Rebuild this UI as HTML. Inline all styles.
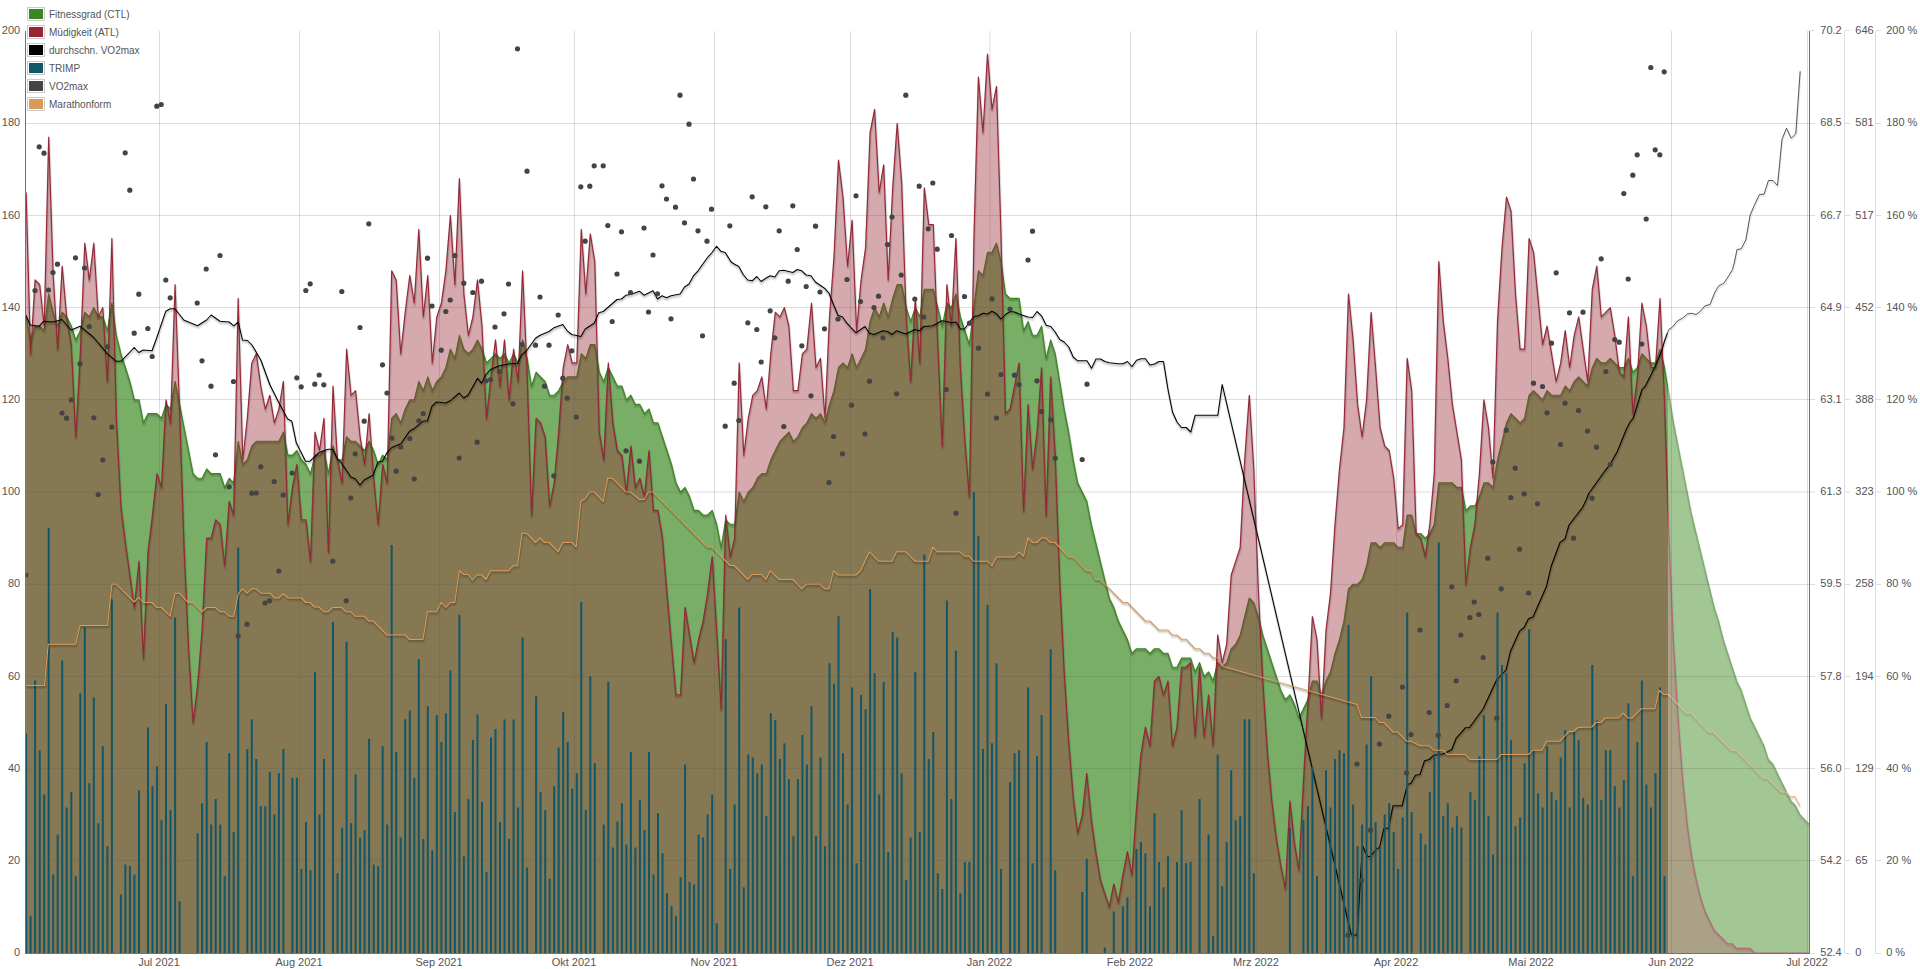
<!DOCTYPE html>
<html><head><meta charset="utf-8"><title>Form</title>
<style>
html,body{margin:0;padding:0;background:#fff;}
body{width:1920px;height:969px;position:relative;overflow:hidden;font-family:"Liberation Sans",sans-serif;}
.lg{position:absolute;left:26px;top:5px;width:116px;height:110px;background:rgba(255,255,255,0.85);}
.sw{position:absolute;left:27px;width:14px;height:10px;border:1px solid #ccc;padding:1px;background:#fff;}
.sw div{width:14px;height:10px;}
.lt{position:absolute;left:49px;height:14px;line-height:14px;font-size:10px;color:#545454;white-space:nowrap;}
</style></head><body>
<svg width="1920" height="969" viewBox="0 0 1920 969" style="position:absolute;left:0;top:0">
<defs><clipPath id="c"><rect x="25.5" y="0" width="1783.5" height="953"/></clipPath>
<path id="lc" d="M26.1 316.8 L30.6 339.9 L35.1 326 L39.7 326 L44.2 330.6 L48.7 293.8 L53.2 312.2 L57.7 326 L62.2 312.2 L66.7 316.8 L71.3 326 L75.8 339.9 L80.3 330.6 L84.8 312.2 L89.3 316.8 L93.8 307.6 L98.3 316.8 L102.8 316.8 L107.4 330.6 L111.9 303 L116.4 335.3 L120.9 353.7 L125.4 367.5 L129.9 381.4 L134.4 399.8 L139 399.8 L143.5 422.8 L148 413.6 L152.5 413.6 L157 413.6 L161.5 418.2 L166 404.4 L170.5 409 L175.1 381.4 L179.6 404.4 L184.1 427.5 L188.6 450.5 L193.1 473.6 L197.6 478.2 L202.1 478.2 L206.7 468.9 L211.2 473.6 L215.7 473.6 L220.2 473.6 L224.7 487.4 L229.2 478.2 L233.7 482.8 L238.2 441.3 L242.8 464.3 L247.3 459.7 L251.8 445.9 L256.3 441.3 L260.8 441.3 L265.3 441.3 L269.8 441.3 L274.4 441.3 L278.9 441.3 L283.4 432.1 L287.9 455.1 L292.4 455.1 L296.9 450.5 L301.4 459.7 L306 464.3 L310.5 473.6 L315 455.1 L319.5 455.1 L324 450.5 L328.5 473.6 L333 445.9 L337.5 459.7 L342.1 459.7 L346.6 436.7 L351.1 441.3 L355.6 441.3 L360.1 445.9 L364.6 450.5 L369.1 441.3 L373.7 450.5 L378.2 464.3 L382.7 455.1 L387.2 459.7 L391.7 418.2 L396.2 413.6 L400.7 422.8 L405.2 409 L409.8 399.8 L414.3 399.8 L418.8 381.4 L423.3 390.6 L427.8 376.8 L432.3 390.6 L436.8 381.4 L441.4 376.8 L445.9 367.5 L450.4 349.1 L454.9 358.3 L459.4 335.3 L463.9 349.1 L468.4 353.7 L472.9 349.1 L477.5 339.9 L482 349.1 L486.5 362.9 L491 358.3 L495.5 353.7 L500 358.3 L504.5 353.7 L509.1 362.9 L513.6 353.7 L518.1 362.9 L522.6 339.9 L527.1 358.3 L531.6 386 L536.1 372.1 L540.6 376.8 L545.2 381.4 L549.7 395.2 L554.2 395.2 L558.7 390.6 L563.2 381.4 L567.7 376.8 L572.2 376.8 L576.8 376.8 L581.3 353.7 L585.8 358.3 L590.3 344.5 L594.8 344.5 L599.3 372.1 L603.8 381.4 L608.3 367.5 L612.9 376.8 L617.4 386 L621.9 386 L626.4 399.8 L630.9 395.2 L635.4 404.4 L639.9 404.4 L644.5 413.6 L649 409 L653.5 422.8 L658 422.8 L662.5 436.7 L667 450.5 L671.5 464.3 L676 482.8 L680.6 492 L685.1 487.4 L689.6 496.6 L694.1 510.4 L698.6 510.4 L703.1 515 L707.6 515 L712.2 510.4 L716.7 524.3 L721.2 547.3 L725.7 519.7 L730.2 524.3 L734.7 524.3 L739.2 492 L743.8 501.2 L748.3 492 L752.8 487.4 L757.3 478.2 L761.8 473.6 L766.3 473.6 L770.8 459.7 L775.3 450.5 L779.9 441.3 L784.4 436.7 L788.9 432.1 L793.4 441.3 L797.9 436.7 L802.4 427.5 L806.9 422.8 L811.5 413.6 L816 418.2 L820.5 413.6 L825 422.8 L829.5 404.4 L834 390.6 L838.5 367.5 L843 362.9 L847.6 367.5 L852.1 353.7 L856.6 367.5 L861.1 358.3 L865.6 349.1 L870.1 321.4 L874.6 307.6 L879.2 316.8 L883.7 303 L888.2 316.8 L892.7 298.4 L897.2 284.5 L901.7 284.5 L906.2 307.6 L910.7 321.4 L915.3 307.6 L919.8 316.8 L924.3 289.2 L928.8 289.2 L933.3 289.2 L937.8 307.6 L942.3 326 L946.9 303 L951.4 307.6 L955.9 293.8 L960.4 316.8 L964.9 330.6 L969.4 344.5 L973.9 307.6 L978.4 270.7 L983 275.3 L987.5 252.3 L992 252.3 L996.5 243.1 L1001 261.5 L1005.5 293.8 L1010 298.4 L1014.6 298.4 L1019.1 298.4 L1023.6 330.6 L1028.1 321.4 L1032.6 335.3 L1037.1 335.3 L1041.6 326 L1046.1 358.3 L1050.7 339.9 L1055.2 353.7 L1059.7 381.4 L1064.2 409 L1068.7 432.1 L1073.2 459.7 L1077.7 482.8 L1082.3 492 L1086.8 501.2 L1091.3 524.3 L1095.8 542.7 L1100.3 561.1 L1104.8 579.6 L1109.3 598 L1113.8 607.2 L1118.4 621.1 L1122.9 630.3 L1127.4 639.5 L1131.9 653.3 L1136.4 648.7 L1140.9 648.7 L1145.4 648.7 L1150 653.3 L1154.5 648.7 L1159 648.7 L1163.5 653.3 L1168 653.3 L1172.5 667.2 L1177 667.2 L1181.6 658 L1186.1 658 L1190.6 658 L1195.1 671.8 L1199.6 662.6 L1204.1 676.4 L1208.6 671.8 L1213.1 681 L1217.7 662.6 L1222.2 667.2 L1226.7 662.6 L1231.2 648.7 L1235.7 644.1 L1240.2 634.9 L1244.7 616.5 L1249.3 598 L1253.8 602.6 L1258.3 616.5 L1262.8 634.9 L1267.3 648.7 L1271.8 662.6 L1276.3 676.4 L1280.8 690.2 L1285.4 699.5 L1289.9 694.8 L1294.4 704.1 L1298.9 717.9 L1303.4 708.7 L1307.9 699.5 L1312.4 681 L1317 681 L1321.5 694.8 L1326 681 L1330.5 671.8 L1335 653.3 L1339.5 639.5 L1344 621.1 L1348.5 588.8 L1353.1 584.2 L1357.6 584.2 L1362.1 579.6 L1366.6 565.8 L1371.1 542.7 L1375.6 542.7 L1380.1 547.3 L1384.7 542.7 L1389.2 542.7 L1393.7 542.7 L1398.2 547.3 L1402.7 547.3 L1407.2 515 L1411.7 515 L1416.2 533.5 L1420.8 533.5 L1425.3 538.1 L1429.8 533.5 L1434.3 524.3 L1438.8 482.8 L1443.3 482.8 L1447.8 482.8 L1452.4 482.8 L1456.9 487.4 L1461.4 487.4 L1465.9 510.4 L1470.4 505.8 L1474.9 505.8 L1479.4 496.6 L1483.9 482.8 L1488.5 482.8 L1493 487.4 L1497.5 459.7 L1502 441.3 L1506.5 422.8 L1511 413.6 L1515.5 418.2 L1520.1 422.8 L1524.6 418.2 L1529.1 395.2 L1533.6 390.6 L1538.1 395.2 L1542.6 399.8 L1547.1 390.6 L1551.6 395.2 L1556.2 395.2 L1560.7 395.2 L1565.2 386 L1569.7 390.6 L1574.2 381.4 L1578.7 376.8 L1583.2 381.4 L1587.8 386 L1592.3 367.5 L1596.8 358.3 L1601.3 362.9 L1605.8 362.9 L1610.3 358.3 L1614.8 362.9 L1619.4 367.5 L1623.9 367.5 L1628.4 358.3 L1632.9 372.1 L1637.4 367.5 L1641.9 353.7 L1646.4 358.3 L1650.9 362.9 L1655.5 362.9 L1660 349.1 L1664.5 367.5 L1669 395.2 L1673.5 422.8 L1678 445.9 L1682.5 468.9 L1687.1 492 L1691.6 515 L1696.1 533.5 L1700.6 551.9 L1705.1 570.4 L1709.6 588.8 L1714.1 607.2 L1718.6 621.1 L1723.2 639.5 L1727.7 653.3 L1732.2 667.2 L1736.7 681 L1741.2 690.2 L1745.7 704.1 L1750.2 717.9 L1754.8 727.1 L1759.3 736.3 L1763.8 745.5 L1768.3 759.4 L1772.8 764 L1777.3 773.2 L1781.8 782.4 L1786.3 791.6 L1790.9 800.9 L1795.4 805.5 L1799.9 814.7 L1804.4 819.3 L1808.9 823.9"/><path id="la" d="M26.1 192.3 L30.6 353.7 L35.1 279.9 L39.7 284.5 L44.2 326 L48.7 137 L53.2 275.3 L57.7 349.1 L62.2 266.1 L66.7 316.8 L71.3 344.5 L75.8 436.7 L80.3 353.7 L84.8 243.1 L89.3 279.9 L93.8 243.1 L98.3 316.8 L102.8 307.6 L107.4 381.4 L111.9 238.4 L116.4 418.2 L120.9 505.8 L125.4 542.7 L129.9 575 L134.4 607.2 L139 561.1 L143.5 658 L148 551.9 L152.5 515 L157 473.6 L161.5 487.4 L166 399.8 L170.5 422.8 L175.1 284.5 L179.6 409 L184.1 547.3 L188.6 648.7 L193.1 722.5 L197.6 685.6 L202.1 630.3 L206.7 538.1 L211.2 538.1 L215.7 519.7 L220.2 524.3 L224.7 565.8 L229.2 501.2 L233.7 515 L238.2 298.4 L242.8 459.7 L247.3 418.2 L251.8 362.9 L256.3 353.7 L260.8 386 L265.3 409 L269.8 395.2 L274.4 422.8 L278.9 409 L283.4 381.4 L287.9 524.3 L292.4 487.4 L296.9 464.3 L301.4 519.7 L306 519.7 L310.5 561.1 L315 432.1 L319.5 450.5 L324 418.2 L328.5 551.9 L333 386 L337.5 459.7 L342.1 482.8 L346.6 349.1 L351.1 395.2 L355.6 390.6 L360.1 436.7 L364.6 464.3 L369.1 413.6 L373.7 478.2 L378.2 524.3 L382.7 464.3 L387.2 482.8 L391.7 270.7 L396.2 279.9 L400.7 353.7 L405.2 312.2 L409.8 275.3 L414.3 303 L418.8 229.2 L423.3 316.8 L427.8 275.3 L432.3 362.9 L436.8 316.8 L441.4 303 L445.9 270.7 L450.4 215.4 L454.9 284.5 L459.4 178.5 L463.9 293.8 L468.4 335.3 L472.9 316.8 L477.5 279.9 L482 326 L486.5 418.2 L491 376.8 L495.5 339.9 L500 386 L504.5 339.9 L509.1 399.8 L513.6 349.1 L518.1 381.4 L522.6 270.7 L527.1 372.1 L531.6 515 L536.1 418.2 L540.6 422.8 L545.2 436.7 L549.7 505.8 L554.2 482.8 L558.7 432.1 L563.2 367.5 L567.7 344.5 L572.2 362.9 L576.8 362.9 L581.3 229.2 L585.8 293.8 L590.3 233.8 L594.8 261.5 L599.3 432.1 L603.8 459.7 L608.3 362.9 L612.9 422.8 L617.4 450.5 L621.9 455.1 L626.4 492 L630.9 445.9 L635.4 487.4 L639.9 478.2 L644.5 496.6 L649 450.5 L653.5 510.4 L658 510.4 L662.5 538.1 L667 593.4 L671.5 644.1 L676 694.8 L680.6 694.8 L685.1 607.2 L689.6 634.9 L694.1 662.6 L698.6 639.5 L703.1 621.1 L707.6 593.4 L712.2 556.5 L716.7 630.3 L721.2 708.7 L725.7 515 L730.2 556.5 L734.7 538.1 L739.2 362.9 L743.8 455.1 L748.3 418.2 L752.8 395.2 L757.3 390.6 L761.8 376.8 L766.3 409 L770.8 353.7 L775.3 312.2 L779.9 316.8 L784.4 307.6 L788.9 326 L793.4 390.6 L797.9 390.6 L802.4 353.7 L806.9 349.1 L811.5 303 L816 367.5 L820.5 358.3 L825 418.2 L829.5 316.8 L834 256.9 L838.5 160.1 L843 197 L847.6 266.1 L852.1 220 L856.6 330.6 L861.1 279.9 L865.6 247.7 L870.1 132.4 L874.6 109.4 L879.2 192.3 L883.7 164.7 L888.2 279.9 L892.7 187.7 L897.2 123.2 L901.7 183.1 L906.2 316.8 L910.7 381.4 L915.3 298.4 L919.8 362.9 L924.3 187.7 L928.8 224.6 L933.3 224.6 L937.8 344.5 L942.3 445.9 L946.9 284.5 L951.4 326 L955.9 238.4 L960.4 367.5 L964.9 441.3 L969.4 496.6 L973.9 238.4 L978.4 77.1 L983 132.4 L987.5 54 L992 109.4 L996.5 86.3 L1001 233.8 L1005.5 413.6 L1010 409 L1014.6 386 L1019.1 362.9 L1023.6 510.4 L1028.1 404.4 L1032.6 468.9 L1037.1 432.1 L1041.6 367.5 L1046.1 515 L1050.7 376.8 L1055.2 455.1 L1059.7 579.6 L1064.2 671.8 L1068.7 740.9 L1073.2 796.3 L1077.7 833.1 L1082.3 814.7 L1086.8 773.2 L1091.3 819.3 L1095.8 851.6 L1100.3 879.2 L1104.8 893.1 L1109.3 906.9 L1113.8 883.9 L1118.4 902.3 L1122.9 874.6 L1127.4 851.6 L1131.9 874.6 L1136.4 810.1 L1140.9 754.8 L1145.4 727.1 L1150 745.5 L1154.5 681 L1159 676.4 L1163.5 694.8 L1168 681 L1172.5 745.5 L1177 727.1 L1181.6 667.2 L1186.1 667.2 L1190.6 662.6 L1195.1 736.3 L1199.6 667.2 L1204.1 736.3 L1208.6 694.8 L1213.1 745.5 L1217.7 634.9 L1222.2 662.6 L1226.7 644.1 L1231.2 575 L1235.7 561.1 L1240.2 547.3 L1244.7 459.7 L1249.3 395.2 L1253.8 468.9 L1258.3 588.8 L1262.8 681 L1267.3 750.2 L1271.8 800.9 L1276.3 837.8 L1280.8 865.4 L1285.4 888.5 L1289.9 800.9 L1294.4 842.4 L1298.9 870 L1303.4 782.4 L1307.9 704.1 L1312.4 616.5 L1317 639.5 L1321.5 717.9 L1326 630.3 L1330.5 593.4 L1335 524.3 L1339.5 468.9 L1344 427.5 L1348.5 293.8 L1353.1 339.9 L1357.6 404.4 L1362.1 436.7 L1366.6 399.8 L1371.1 312.2 L1375.6 367.5 L1380.1 427.5 L1384.7 445.9 L1389.2 450.5 L1393.7 478.2 L1398.2 528.9 L1402.7 524.3 L1407.2 358.3 L1411.7 390.6 L1416.2 533.5 L1420.8 538.1 L1425.3 556.5 L1429.8 524.3 L1434.3 473.6 L1438.8 261.5 L1443.3 321.4 L1447.8 358.3 L1452.4 404.4 L1456.9 432.1 L1461.4 459.7 L1465.9 584.2 L1470.4 547.3 L1474.9 524.3 L1479.4 473.6 L1483.9 399.8 L1488.5 427.5 L1493 478.2 L1497.5 321.4 L1502 247.7 L1506.5 197 L1511 210.8 L1515.5 293.8 L1520.1 349.1 L1524.6 349.1 L1529.1 238.4 L1533.6 252.3 L1538.1 298.4 L1542.6 344.5 L1547.1 326 L1551.6 353.7 L1556.2 381.4 L1560.7 362.9 L1565.2 330.6 L1569.7 367.5 L1574.2 335.3 L1578.7 316.8 L1583.2 349.1 L1587.8 381.4 L1592.3 289.2 L1596.8 266.1 L1601.3 316.8 L1605.8 312.2 L1610.3 307.6 L1614.8 335.3 L1619.4 372.1 L1623.9 376.8 L1628.4 316.8 L1632.9 413.6 L1637.4 376.8 L1641.9 303 L1646.4 326 L1650.9 367.5 L1655.5 367.5 L1660 298.4 L1664.5 399.8 L1669 538.1 L1673.5 644.1 L1678 717.9 L1682.5 777.8 L1687.1 823.9 L1691.6 856.2 L1696.1 879.2 L1700.6 897.7 L1705.1 911.5 L1709.6 920.7 L1714.1 930 L1718.6 934.6 L1723.2 939.2 L1727.7 943.8 L1732.2 943.8 L1736.7 948.4 L1741.2 948.4 L1745.7 948.4 L1750.2 948.4 L1754.8 953 L1759.3 953 L1763.8 953 L1768.3 953 L1772.8 953 L1777.3 953 L1781.8 953 L1786.3 953 L1790.9 953 L1795.4 953 L1799.9 953 L1804.4 953 L1808.9 953"/><path id="lb" d="M25.8 315 L30.2 325 L39.2 326.2 L43.8 321.2 L53 322 L62 319.5 L71.2 330 L80 326.2 L93.8 337.5 L107.5 353.8 L116.2 361.2 L121.2 361.2 L134.2 347.5 L138.8 352.5 L143.2 350 L152 350.8 L156.8 337.5 L165.8 311.2 L170.2 308.8 L175 308.8 L183.8 320 L197.5 325.8 L206.5 320 L211.2 315 L220 321.2 L229.2 322 L233.8 325.8 L238.2 322 L242.5 340 L247.5 340.5 L252 345 L260.8 360 L270 385 L278.8 402.5 L287.5 418.8 L291.8 421.2 L296.2 442.5 L305.5 461.2 L310 461.2 L319 452.5 L328 449.2 L332.5 449.2 L337 458 L341.5 463 L350.8 477 L355.2 478.8 L360 485 L364.2 480 L373.2 475 L378 462 L382.5 461.2 L387 452.5 L391.8 447.5 L400.8 443.8 L409.5 431.2 L413.8 428.8 L423 421.2 L427.5 420.8 L432 406.2 L436.5 402 L445.8 403 L450.2 400.8 L459.2 393 L463.8 398 L468.2 395 L477.5 378.2 L481.5 383.2 L486 374.5 L490.5 369.5 L499.5 365.8 L508.5 364 L517.5 363.2 L522 354.5 L526.5 350.8 L535.5 338.2 L540 335.2 L549 331.5 L553.8 327.8 L562.8 324.5 L567.2 330.8 L571.8 334.5 L580.8 336.5 L585.2 329 L594.2 323.2 L598.8 312.8 L603.2 311.5 L617 299.5 L621.5 299 L626 295.2 L630.5 294.5 L639.5 291.2 L644 295.2 L653 290.8 L657.5 299 L662 295.8 L666.5 297.8 L671 295.8 L680 294 L684.5 287 L689 284 L693.5 275.8 L698 270.8 L702.5 264.5 L707.5 257.5 L712 252.5 L716.5 246.2 L720.8 251.2 L725.2 252.5 L731.2 262 L734.2 264 L738.8 266.5 L743.2 274.5 L747.8 280 L752.2 280.8 L756.8 276.5 L761.2 281.5 L765.8 278.2 L770.2 275.8 L774.8 277 L779.2 270.8 L783.8 270.2 L792.8 272.5 L797.2 269.5 L801.8 270.8 L806.2 275 L811 275.8 L815.5 282 L824.5 288.2 L829 293.2 L833.5 304.5 L838 315.2 L842.5 317 L847 323.2 L851.5 328.2 L856 332.8 L865 326.5 L869.5 333.2 L874 334.5 L883 330.8 L887.5 331.5 L892 334.5 L896.5 330.8 L905.8 334 L914.8 329.5 L919.2 330.8 L923.8 326.5 L932.8 325.8 L941.8 320.8 L947 321.5 L951.5 322.8 L956 322 L960.5 329 L964.5 329 L969.5 322 L974 316.5 L978.5 315.8 L983 313.2 L987.5 314 L992 311.2 L996.5 313.8 L1001 319 L1005.5 314.5 L1010 311.5 L1014.5 312 L1019 314 L1028 317 L1032.5 317.5 L1037 311.5 L1041.5 315.8 L1046.2 325.2 L1050.8 326.5 L1055.2 332 L1059.8 339.5 L1064.2 342 L1068.8 347 L1073.2 357 L1077.8 360.8 L1087 360.8 L1091.5 368.2 L1096 359 L1100.5 359 L1105 361.5 L1109.5 362.8 L1118.5 363.8 L1123 363.8 L1127.5 361.5 L1132 366.5 L1136.5 360.2 L1141 358.8 L1145.5 358.8 L1150 365 L1154.5 364 L1159 361.5 L1163.5 361.5 L1168 389.5 L1172.5 412 L1177 422 L1181.5 427.5 L1186.2 427.5 L1190.8 432 L1195.2 415.2 L1217.8 415.2 L1222.2 384.5 L1351.2 934.5 L1357 935.2 L1362.5 845.8 L1367.5 856.5 L1370.5 856.5 L1376.2 849 L1379.5 847.5 L1384 828.2 L1388.5 828.2 L1393 805.8 L1402 805.8 L1407.5 784.5 L1411 783.2 L1415.5 775.2 L1420 774.5 L1424.5 760.8 L1429.2 759.5 L1433.8 755.2 L1442.8 754 L1447.2 752 L1451.8 749.5 L1456.2 738.2 L1460.8 733.2 L1465.2 727.8 L1469.5 727.5 L1483.2 708.8 L1496.8 679.5 L1506 670 L1510.5 651.2 L1519.5 631.2 L1524 627.5 L1528.5 618.8 L1533 617 L1546.5 586.2 L1551.2 566.2 L1560 542.5 L1565 538.8 L1569 525 L1582.5 507.5 L1586.2 500 L1588.8 493.2 L1592.5 488.2 L1605 470.8 L1610 464.5 L1617 452 L1621.2 442 L1626.2 429.5 L1630 422 L1633.2 418.2 L1637.5 404.5 L1642 389.5 L1645.5 385.8 L1651.2 374.5 L1656.2 364 L1661.2 352 L1665 339.5 L1667.5 332.8"/><path id="lo" d="M25.8 685.5 L44.5 685.5 L48.2 644.2 L75.8 644.2 L80 625.5 L107.5 625.5 L111.8 584.2 L116.2 584.2 L134.2 602 L138.8 597.5 L143.2 602.5 L152 602.5 L156.8 607.5 L161.2 607.5 L170.2 616.2 L175 593.2 L179.2 593.2 L188.2 602.5 L193 602.5 L202 611.8 L206.5 607.5 L215.5 607.5 L220 611.8 L224.5 611.8 L229.2 616.2 L233.8 616.2 L238.2 593.8 L242.5 588.8 L247 593.2 L252 588.8 L256.2 588.8 L260.8 593.2 L270 593.2 L274.5 598 L278.8 598 L283.2 593.8 L288 598 L301.2 598 L305.8 602.5 L310 602.5 L314.5 607 L319 607 L323.8 611.8 L328 611.8 L332.5 607.5 L341.5 607.5 L346.2 611.8 L350.8 611.8 L355.2 616.2 L364.2 616.2 L368.8 621 L373.2 621 L387 635 L405 635 L409.5 639.5 L423 639.5 L427.5 611.8 L436.5 611.8 L441.2 602.5 L445.8 607.5 L450.2 602.5 L454.8 602.5 L459.2 570.8 L463.8 574.5 L468.2 574.5 L472.5 580 L477 575 L481.5 575 L486 579.5 L490.5 570.8 L495 570.8 L508.5 570.8 L513 565.8 L517.5 565.8 L522 533.2 L526.5 533.2 L535.5 542.5 L540 538 L544.5 542.5 L549 542.5 L558.2 551.8 L562.8 542.5 L571.8 542.5 L576.2 547 L580.8 501.2 L585.2 498.8 L589.8 492 L594.2 492 L603.2 501.5 L607.8 478.2 L612.2 478.2 L626 492 L630.5 492 L639.5 499.5 L644 499.5 L648.5 492 L653 492 L665 504 L707.5 547 L712 547 L730 565.5 L734.2 565.5 L747.8 579.5 L752.2 574.5 L761.2 574.5 L765.8 579.5 L770.2 570.8 L779.2 579.5 L792.8 579.5 L801.8 588.8 L806.2 584.2 L820 584.2 L824.5 588.8 L829 588.8 L833.5 570.8 L838 575 L856 575 L860.5 570.8 L869.5 551.8 L878.5 561.2 L892 561.2 L896.5 551.8 L905.8 551.8 L914.8 561.2 L928.2 561.2 L932.8 547 L937.2 551.8 L940 551.8 L960 551.8 L964.5 556.2 L969 556.2 L973.5 561.2 L987.5 561.2 L992 565.8 L996.5 557 L1014.5 557 L1019 552 L1023.5 556.2 L1028 538 L1032.5 542.5 L1037 542.5 L1041.2 538 L1045.8 538 L1050.2 542.5 L1055 542.5 L1068.8 557 L1073.2 557 L1086.8 570.8 L1091.2 570.8 L1095.8 579.5 L1100.2 579.5 L1123 602.5 L1127.5 602.5 L1145.5 621 L1150 621 L1159 630 L1168 630 L1172.5 635 L1177 635 L1181.5 639.2 L1186.2 639.2 L1195.2 648.8 L1200 648.8 L1204.2 653.2 L1208.8 653.2 L1213.2 657.8 L1217.8 657.8 L1222.2 666.2 L1357 704.5 L1361.5 717.5 L1375 717.5 L1379.5 722.5 L1384 722.5 L1393 732 L1397.5 732 L1406.5 741.2 L1411 741.2 L1420 745.8 L1429.2 745.8 L1433.8 750.2 L1442.8 750.2 L1447.2 754.5 L1465.2 754.5 L1469.8 759.5 L1496.8 759.5 L1501.2 754.5 L1528.5 754.5 L1533 750.2 L1542 750.2 L1546.5 741.2 L1560 741.2 L1569 731.5 L1573.5 731.5 L1578 727.5 L1591.8 727 L1596.2 722.5 L1600.8 722.5 L1605.2 718 L1618.8 718 L1623.2 713.2 L1627.8 718 L1632.2 718 L1641.2 708.8 L1654.8 708.8 L1659.2 690.5 L1663.8 694.5 L1668.2 694.5 L1686.2 713.2 L1690.8 713.2 L1708.8 732 L1713.2 732 L1722.5 741.2 L1731.2 750.2 L1735.8 750.2 L1763 778.2 L1767.5 778.2 L1781.2 792 L1785.8 792 L1790.2 796.5 L1794.8 796.5 L1800 805.8"/><path id="lf" d="M1667.5 332.8 L1668.8 329.5 L1672.5 327 L1677.5 320.8 L1682.5 318.2 L1687.5 314 L1691.2 313.2 L1696.2 314.5 L1700.8 310.8 L1705 305.8 L1710 304.5 L1715 292 L1718.8 285.8 L1723.8 283.2 L1728.8 275.8 L1732.5 269.5 L1734.5 262 L1737 249.5 L1741.2 248.8 L1745.8 240 L1750.2 215 L1755 203.8 L1759.5 194.5 L1764 194.2 L1768.5 180.5 L1773 180.5 L1777.5 185.5 L1782 139.5 L1786.5 128.2 L1791.2 138.2 L1795.8 133.8 L1800.2 71.2"/>
</defs>
<g clip-path="url(#c)" fill="none" stroke-linejoin="round">
<path d="M26.1 316.8 L30.6 339.9 L35.1 326 L39.7 326 L44.2 330.6 L48.7 293.8 L53.2 312.2 L57.7 326 L62.2 312.2 L66.7 316.8 L71.3 326 L75.8 339.9 L80.3 330.6 L84.8 312.2 L89.3 316.8 L93.8 307.6 L98.3 316.8 L102.8 316.8 L107.4 330.6 L111.9 303 L116.4 335.3 L120.9 353.7 L125.4 367.5 L129.9 381.4 L134.4 399.8 L139 399.8 L143.5 422.8 L148 413.6 L152.5 413.6 L157 413.6 L161.5 418.2 L166 404.4 L170.5 409 L175.1 381.4 L179.6 404.4 L184.1 427.5 L188.6 450.5 L193.1 473.6 L197.6 478.2 L202.1 478.2 L206.7 468.9 L211.2 473.6 L215.7 473.6 L220.2 473.6 L224.7 487.4 L229.2 478.2 L233.7 482.8 L238.2 441.3 L242.8 464.3 L247.3 459.7 L251.8 445.9 L256.3 441.3 L260.8 441.3 L265.3 441.3 L269.8 441.3 L274.4 441.3 L278.9 441.3 L283.4 432.1 L287.9 455.1 L292.4 455.1 L296.9 450.5 L301.4 459.7 L306 464.3 L310.5 473.6 L315 455.1 L319.5 455.1 L324 450.5 L328.5 473.6 L333 445.9 L337.5 459.7 L342.1 459.7 L346.6 436.7 L351.1 441.3 L355.6 441.3 L360.1 445.9 L364.6 450.5 L369.1 441.3 L373.7 450.5 L378.2 464.3 L382.7 455.1 L387.2 459.7 L391.7 418.2 L396.2 413.6 L400.7 422.8 L405.2 409 L409.8 399.8 L414.3 399.8 L418.8 381.4 L423.3 390.6 L427.8 376.8 L432.3 390.6 L436.8 381.4 L441.4 376.8 L445.9 367.5 L450.4 349.1 L454.9 358.3 L459.4 335.3 L463.9 349.1 L468.4 353.7 L472.9 349.1 L477.5 339.9 L482 349.1 L486.5 362.9 L491 358.3 L495.5 353.7 L500 358.3 L504.5 353.7 L509.1 362.9 L513.6 353.7 L518.1 362.9 L522.6 339.9 L527.1 358.3 L531.6 386 L536.1 372.1 L540.6 376.8 L545.2 381.4 L549.7 395.2 L554.2 395.2 L558.7 390.6 L563.2 381.4 L567.7 376.8 L572.2 376.8 L576.8 376.8 L581.3 353.7 L585.8 358.3 L590.3 344.5 L594.8 344.5 L599.3 372.1 L603.8 381.4 L608.3 367.5 L612.9 376.8 L617.4 386 L621.9 386 L626.4 399.8 L630.9 395.2 L635.4 404.4 L639.9 404.4 L644.5 413.6 L649 409 L653.5 422.8 L658 422.8 L662.5 436.7 L667 450.5 L671.5 464.3 L676 482.8 L680.6 492 L685.1 487.4 L689.6 496.6 L694.1 510.4 L698.6 510.4 L703.1 515 L707.6 515 L712.2 510.4 L716.7 524.3 L721.2 547.3 L725.7 519.7 L730.2 524.3 L734.7 524.3 L739.2 492 L743.8 501.2 L748.3 492 L752.8 487.4 L757.3 478.2 L761.8 473.6 L766.3 473.6 L770.8 459.7 L775.3 450.5 L779.9 441.3 L784.4 436.7 L788.9 432.1 L793.4 441.3 L797.9 436.7 L802.4 427.5 L806.9 422.8 L811.5 413.6 L816 418.2 L820.5 413.6 L825 422.8 L829.5 404.4 L834 390.6 L838.5 367.5 L843 362.9 L847.6 367.5 L852.1 353.7 L856.6 367.5 L861.1 358.3 L865.6 349.1 L870.1 321.4 L874.6 307.6 L879.2 316.8 L883.7 303 L888.2 316.8 L892.7 298.4 L897.2 284.5 L901.7 284.5 L906.2 307.6 L910.7 321.4 L915.3 307.6 L919.8 316.8 L924.3 289.2 L928.8 289.2 L933.3 289.2 L937.8 307.6 L942.3 326 L946.9 303 L951.4 307.6 L955.9 293.8 L960.4 316.8 L964.9 330.6 L969.4 344.5 L973.9 307.6 L978.4 270.7 L983 275.3 L987.5 252.3 L992 252.3 L996.5 243.1 L1001 261.5 L1005.5 293.8 L1010 298.4 L1014.6 298.4 L1019.1 298.4 L1023.6 330.6 L1028.1 321.4 L1032.6 335.3 L1037.1 335.3 L1041.6 326 L1046.1 358.3 L1050.7 339.9 L1055.2 353.7 L1059.7 381.4 L1064.2 409 L1068.7 432.1 L1073.2 459.7 L1077.7 482.8 L1082.3 492 L1086.8 501.2 L1091.3 524.3 L1095.8 542.7 L1100.3 561.1 L1104.8 579.6 L1109.3 598 L1113.8 607.2 L1118.4 621.1 L1122.9 630.3 L1127.4 639.5 L1131.9 653.3 L1136.4 648.7 L1140.9 648.7 L1145.4 648.7 L1150 653.3 L1154.5 648.7 L1159 648.7 L1163.5 653.3 L1168 653.3 L1172.5 667.2 L1177 667.2 L1181.6 658 L1186.1 658 L1190.6 658 L1195.1 671.8 L1199.6 662.6 L1204.1 676.4 L1208.6 671.8 L1213.1 681 L1217.7 662.6 L1222.2 667.2 L1226.7 662.6 L1231.2 648.7 L1235.7 644.1 L1240.2 634.9 L1244.7 616.5 L1249.3 598 L1253.8 602.6 L1258.3 616.5 L1262.8 634.9 L1267.3 648.7 L1271.8 662.6 L1276.3 676.4 L1280.8 690.2 L1285.4 699.5 L1289.9 694.8 L1294.4 704.1 L1298.9 717.9 L1303.4 708.7 L1307.9 699.5 L1312.4 681 L1317 681 L1321.5 694.8 L1326 681 L1330.5 671.8 L1335 653.3 L1339.5 639.5 L1344 621.1 L1348.5 588.8 L1353.1 584.2 L1357.6 584.2 L1362.1 579.6 L1366.6 565.8 L1371.1 542.7 L1375.6 542.7 L1380.1 547.3 L1384.7 542.7 L1389.2 542.7 L1393.7 542.7 L1398.2 547.3 L1402.7 547.3 L1407.2 515 L1411.7 515 L1416.2 533.5 L1420.8 533.5 L1425.3 538.1 L1429.8 533.5 L1434.3 524.3 L1438.8 482.8 L1443.3 482.8 L1447.8 482.8 L1452.4 482.8 L1456.9 487.4 L1461.4 487.4 L1465.9 510.4 L1470.4 505.8 L1474.9 505.8 L1479.4 496.6 L1483.9 482.8 L1488.5 482.8 L1493 487.4 L1497.5 459.7 L1502 441.3 L1506.5 422.8 L1511 413.6 L1515.5 418.2 L1520.1 422.8 L1524.6 418.2 L1529.1 395.2 L1533.6 390.6 L1538.1 395.2 L1542.6 399.8 L1547.1 390.6 L1551.6 395.2 L1556.2 395.2 L1560.7 395.2 L1565.2 386 L1569.7 390.6 L1574.2 381.4 L1578.7 376.8 L1583.2 381.4 L1587.8 386 L1592.3 367.5 L1596.8 358.3 L1601.3 362.9 L1605.8 362.9 L1610.3 358.3 L1614.8 362.9 L1619.4 367.5 L1623.9 367.5 L1628.4 358.3 L1632.9 372.1 L1637.4 367.5 L1641.9 353.7 L1646.4 358.3 L1650.9 362.9 L1655.5 362.9 L1660 349.1 L1664.5 367.5 L1669 395.2 L1673.5 422.8 L1678 445.9 L1682.5 468.9 L1687.1 492 L1691.6 515 L1696.1 533.5 L1700.6 551.9 L1705.1 570.4 L1709.6 588.8 L1714.1 607.2 L1718.6 621.1 L1723.2 639.5 L1727.7 653.3 L1732.2 667.2 L1736.7 681 L1741.2 690.2 L1745.7 704.1 L1750.2 717.9 L1754.8 727.1 L1759.3 736.3 L1763.8 745.5 L1768.3 759.4 L1772.8 764 L1777.3 773.2 L1781.8 782.4 L1786.3 791.6 L1790.9 800.9 L1795.4 805.5 L1799.9 814.7 L1804.4 819.3 L1808.9 823.9 L1808.9 953 L26.1 953 Z" fill="rgba(58,135,30,0.68)" stroke="none"/>
<use href="#lc" transform="translate(0.35,1.97)" stroke="rgba(0,0,0,0.1)" stroke-width="3"/>
<use href="#lc" transform="translate(0.22,1.23)" stroke="rgba(0,0,0,0.1)" stroke-width="1.5"/>
<use href="#lc" stroke="rgb(58,135,30)" stroke-width="1.1"/>
<path d="M26.1 192.3 L30.6 353.7 L35.1 279.9 L39.7 284.5 L44.2 326 L48.7 137 L53.2 275.3 L57.7 349.1 L62.2 266.1 L66.7 316.8 L71.3 344.5 L75.8 436.7 L80.3 353.7 L84.8 243.1 L89.3 279.9 L93.8 243.1 L98.3 316.8 L102.8 307.6 L107.4 381.4 L111.9 238.4 L116.4 418.2 L120.9 505.8 L125.4 542.7 L129.9 575 L134.4 607.2 L139 561.1 L143.5 658 L148 551.9 L152.5 515 L157 473.6 L161.5 487.4 L166 399.8 L170.5 422.8 L175.1 284.5 L179.6 409 L184.1 547.3 L188.6 648.7 L193.1 722.5 L197.6 685.6 L202.1 630.3 L206.7 538.1 L211.2 538.1 L215.7 519.7 L220.2 524.3 L224.7 565.8 L229.2 501.2 L233.7 515 L238.2 298.4 L242.8 459.7 L247.3 418.2 L251.8 362.9 L256.3 353.7 L260.8 386 L265.3 409 L269.8 395.2 L274.4 422.8 L278.9 409 L283.4 381.4 L287.9 524.3 L292.4 487.4 L296.9 464.3 L301.4 519.7 L306 519.7 L310.5 561.1 L315 432.1 L319.5 450.5 L324 418.2 L328.5 551.9 L333 386 L337.5 459.7 L342.1 482.8 L346.6 349.1 L351.1 395.2 L355.6 390.6 L360.1 436.7 L364.6 464.3 L369.1 413.6 L373.7 478.2 L378.2 524.3 L382.7 464.3 L387.2 482.8 L391.7 270.7 L396.2 279.9 L400.7 353.7 L405.2 312.2 L409.8 275.3 L414.3 303 L418.8 229.2 L423.3 316.8 L427.8 275.3 L432.3 362.9 L436.8 316.8 L441.4 303 L445.9 270.7 L450.4 215.4 L454.9 284.5 L459.4 178.5 L463.9 293.8 L468.4 335.3 L472.9 316.8 L477.5 279.9 L482 326 L486.5 418.2 L491 376.8 L495.5 339.9 L500 386 L504.5 339.9 L509.1 399.8 L513.6 349.1 L518.1 381.4 L522.6 270.7 L527.1 372.1 L531.6 515 L536.1 418.2 L540.6 422.8 L545.2 436.7 L549.7 505.8 L554.2 482.8 L558.7 432.1 L563.2 367.5 L567.7 344.5 L572.2 362.9 L576.8 362.9 L581.3 229.2 L585.8 293.8 L590.3 233.8 L594.8 261.5 L599.3 432.1 L603.8 459.7 L608.3 362.9 L612.9 422.8 L617.4 450.5 L621.9 455.1 L626.4 492 L630.9 445.9 L635.4 487.4 L639.9 478.2 L644.5 496.6 L649 450.5 L653.5 510.4 L658 510.4 L662.5 538.1 L667 593.4 L671.5 644.1 L676 694.8 L680.6 694.8 L685.1 607.2 L689.6 634.9 L694.1 662.6 L698.6 639.5 L703.1 621.1 L707.6 593.4 L712.2 556.5 L716.7 630.3 L721.2 708.7 L725.7 515 L730.2 556.5 L734.7 538.1 L739.2 362.9 L743.8 455.1 L748.3 418.2 L752.8 395.2 L757.3 390.6 L761.8 376.8 L766.3 409 L770.8 353.7 L775.3 312.2 L779.9 316.8 L784.4 307.6 L788.9 326 L793.4 390.6 L797.9 390.6 L802.4 353.7 L806.9 349.1 L811.5 303 L816 367.5 L820.5 358.3 L825 418.2 L829.5 316.8 L834 256.9 L838.5 160.1 L843 197 L847.6 266.1 L852.1 220 L856.6 330.6 L861.1 279.9 L865.6 247.7 L870.1 132.4 L874.6 109.4 L879.2 192.3 L883.7 164.7 L888.2 279.9 L892.7 187.7 L897.2 123.2 L901.7 183.1 L906.2 316.8 L910.7 381.4 L915.3 298.4 L919.8 362.9 L924.3 187.7 L928.8 224.6 L933.3 224.6 L937.8 344.5 L942.3 445.9 L946.9 284.5 L951.4 326 L955.9 238.4 L960.4 367.5 L964.9 441.3 L969.4 496.6 L973.9 238.4 L978.4 77.1 L983 132.4 L987.5 54 L992 109.4 L996.5 86.3 L1001 233.8 L1005.5 413.6 L1010 409 L1014.6 386 L1019.1 362.9 L1023.6 510.4 L1028.1 404.4 L1032.6 468.9 L1037.1 432.1 L1041.6 367.5 L1046.1 515 L1050.7 376.8 L1055.2 455.1 L1059.7 579.6 L1064.2 671.8 L1068.7 740.9 L1073.2 796.3 L1077.7 833.1 L1082.3 814.7 L1086.8 773.2 L1091.3 819.3 L1095.8 851.6 L1100.3 879.2 L1104.8 893.1 L1109.3 906.9 L1113.8 883.9 L1118.4 902.3 L1122.9 874.6 L1127.4 851.6 L1131.9 874.6 L1136.4 810.1 L1140.9 754.8 L1145.4 727.1 L1150 745.5 L1154.5 681 L1159 676.4 L1163.5 694.8 L1168 681 L1172.5 745.5 L1177 727.1 L1181.6 667.2 L1186.1 667.2 L1190.6 662.6 L1195.1 736.3 L1199.6 667.2 L1204.1 736.3 L1208.6 694.8 L1213.1 745.5 L1217.7 634.9 L1222.2 662.6 L1226.7 644.1 L1231.2 575 L1235.7 561.1 L1240.2 547.3 L1244.7 459.7 L1249.3 395.2 L1253.8 468.9 L1258.3 588.8 L1262.8 681 L1267.3 750.2 L1271.8 800.9 L1276.3 837.8 L1280.8 865.4 L1285.4 888.5 L1289.9 800.9 L1294.4 842.4 L1298.9 870 L1303.4 782.4 L1307.9 704.1 L1312.4 616.5 L1317 639.5 L1321.5 717.9 L1326 630.3 L1330.5 593.4 L1335 524.3 L1339.5 468.9 L1344 427.5 L1348.5 293.8 L1353.1 339.9 L1357.6 404.4 L1362.1 436.7 L1366.6 399.8 L1371.1 312.2 L1375.6 367.5 L1380.1 427.5 L1384.7 445.9 L1389.2 450.5 L1393.7 478.2 L1398.2 528.9 L1402.7 524.3 L1407.2 358.3 L1411.7 390.6 L1416.2 533.5 L1420.8 538.1 L1425.3 556.5 L1429.8 524.3 L1434.3 473.6 L1438.8 261.5 L1443.3 321.4 L1447.8 358.3 L1452.4 404.4 L1456.9 432.1 L1461.4 459.7 L1465.9 584.2 L1470.4 547.3 L1474.9 524.3 L1479.4 473.6 L1483.9 399.8 L1488.5 427.5 L1493 478.2 L1497.5 321.4 L1502 247.7 L1506.5 197 L1511 210.8 L1515.5 293.8 L1520.1 349.1 L1524.6 349.1 L1529.1 238.4 L1533.6 252.3 L1538.1 298.4 L1542.6 344.5 L1547.1 326 L1551.6 353.7 L1556.2 381.4 L1560.7 362.9 L1565.2 330.6 L1569.7 367.5 L1574.2 335.3 L1578.7 316.8 L1583.2 349.1 L1587.8 381.4 L1592.3 289.2 L1596.8 266.1 L1601.3 316.8 L1605.8 312.2 L1610.3 307.6 L1614.8 335.3 L1619.4 372.1 L1623.9 376.8 L1628.4 316.8 L1632.9 413.6 L1637.4 376.8 L1641.9 303 L1646.4 326 L1650.9 367.5 L1655.5 367.5 L1660 298.4 L1664.5 399.8 L1669 538.1 L1673.5 644.1 L1678 717.9 L1682.5 777.8 L1687.1 823.9 L1691.6 856.2 L1696.1 879.2 L1700.6 897.7 L1705.1 911.5 L1709.6 920.7 L1714.1 930 L1718.6 934.6 L1723.2 939.2 L1727.7 943.8 L1732.2 943.8 L1736.7 948.4 L1741.2 948.4 L1745.7 948.4 L1750.2 948.4 L1754.8 953 L1759.3 953 L1763.8 953 L1768.3 953 L1772.8 953 L1777.3 953 L1781.8 953 L1786.3 953 L1790.9 953 L1795.4 953 L1799.9 953 L1804.4 953 L1808.9 953 L1808.9 953 L26.1 953 Z" fill="rgba(152,37,54,0.395)" stroke="none"/>
<use href="#la" transform="translate(0.35,1.97)" stroke="rgba(0,0,0,0.1)" stroke-width="3"/>
<use href="#la" transform="translate(0.22,1.23)" stroke="rgba(0,0,0,0.1)" stroke-width="1.5"/>
<use href="#la" stroke="rgb(152,37,54)" stroke-width="1.1"/>
<use href="#lb" transform="translate(0.35,1.97)" stroke="rgba(0,0,0,0.1)" stroke-width="3"/>
<use href="#lb" transform="translate(0.22,1.23)" stroke="rgba(0,0,0,0.1)" stroke-width="1.5"/>
<use href="#lb" stroke="#000" stroke-width="1.05"/>
<path d="M26.1 953V733.2M30.6 953V916.2M35.1 953V680.5M39.7 953V750.2M44.2 953V794.5M48.7 953V528M53.2 953V874.5M57.7 953V834.5M62.2 953V660.5M66.7 953V807.5M71.3 953V792M75.8 953V876.2M80.3 953V693.2M84.8 953V627.5M89.3 953V783.2M93.8 953V697.5M98.3 953V823.2M102.8 953V746.2M107.4 953V846.2M111.9 953V599.2M120.9 953V894.5M125.4 953V864.5M129.9 953V866.2M134.4 953V874.5M139 953V790.2M148 953V727.5M152.5 953V786.2M157 953V766.2M161.5 953V820.2M166 953V703.8M170.5 953V810.2M175.1 953V617.5M179.6 953V901.2M197.6 953V833.2M202.1 953V803.2M206.7 953V742M211.2 953V824.5M215.7 953V799M220.2 953V824.5M224.7 953V876.2M229.2 953V753.2M233.7 953V832M238.2 953V547.5M247.3 953V749M251.8 953V719.2M256.3 953V759M260.8 953V806.2M265.3 953V806.2M269.8 953V772M274.4 953V814.5M278.9 953V773.2M283.4 953V749M292.4 953V777.8M296.9 953V777.8M301.4 953V869M306 953V822M310.5 953V870.2M315 953V672M319.5 953V814.5M324 953V759M333 953V622M337.5 953V873.2M342.1 953V827.8M346.6 953V641.8M351.1 953V823.2M355.6 953V774.5M360.1 953V837.8M364.6 953V830.2M369.1 953V738.8M373.7 953V864.5M378.2 953V866.2M382.7 953V746.2M387.2 953V824.5M391.7 953V545M396.2 953V752M400.7 953V837.5M405.2 953V719.2M409.8 953V710.5M414.3 953V777.8M418.8 953V659M423.3 953V839M427.8 953V706.2M432.3 953V850.2M436.8 953V715M441.4 953V742M445.9 953V713.2M450.4 953V670.5M454.9 953V812M459.4 953V615M463.9 953V856.2M468.4 953V799M472.9 953V740M477.5 953V714.5M482 953V802M486.5 953V872M491 953V737.5M495.5 953V729M500 953V822M504.5 953V719.5M509.1 953V838.8M513.6 953V719.5M518.1 953V807.5M522.6 953V637.5M527.1 953V867.5M536.1 953V696.2M540.6 953V792M545.2 953V810.2M549.7 953V878.8M554.2 953V786.2M558.7 953V747.5M563.2 953V712M567.7 953V742M572.2 953V788.8M576.8 953V773.2M581.3 953V602M585.8 953V810.2M590.3 953V676.2M594.8 953V763.2M603.8 953V824.5M608.3 953V681.8M612.9 953V847.5M617.4 953V821.5M621.9 953V803.2M626.4 953V844.5M630.9 953V752M635.4 953V847.5M639.9 953V800.2M644.5 953V830.2M649 953V752M653.5 953V874.5M658 953V813.2M662.5 953V853.2M667 953V893.2M671.5 953V906.2M676 953V916.2M680.6 953V877.2M685.1 953V764.5M689.6 953V882M694.1 953V884.5M698.6 953V834.5M703.1 953V837.5M707.6 953V814.5M712.2 953V794.5M716.7 953V923.2M725.7 953V639.2M730.2 953V869M734.7 953V804.5M739.2 953V607.5M743.8 953V887.2M748.3 953V754.5M752.8 953V757.5M757.3 953V773.2M761.8 953V764.5M766.3 953V816.2M770.8 953V713.2M775.3 953V720M779.9 953V759M784.4 953V743.2M788.9 953V779M793.4 953V836.2M797.9 953V779M802.4 953V735M806.9 953V764.5M811.5 953V706.2M816 953V836.2M820.5 953V757.5M825 953V846.2M829.5 953V663.2M834 953V683.8M838.5 953V616.2M843 953V753.2M847.6 953V804.5M852.1 953V687.5M856.6 953V863.2M861.1 953V695M865.6 953V709.2M870.1 953V589.2M874.6 953V673.2M879.2 953V794.5M883.7 953V682M888.2 953V852M892.7 953V631.8M897.2 953V637.5M901.7 953V773.2M906.2 953V880.2M910.7 953V837.5M915.3 953V672M919.8 953V832M924.3 953V554.5M928.8 953V759M933.3 953V732M937.8 953V873.2M942.3 953V889M946.9 953V600.5M951.4 953V799M955.9 953V650.8M960.4 953V893.2M964.9 953V862M969.4 953V862M973.9 953V492M978.4 953V536.2M983 953V749M987.5 953V605M992 953V743.2M996.5 953V663.2M1001 953V869M1010 953V782M1014.6 953V753.2M1019.1 953V750.2M1028.1 953V687.5M1032.6 953V863.2M1037.1 953V756.2M1041.6 953V715M1050.7 953V649.2M1055.2 953V870.2M1082.3 953V892M1086.8 953V858.8M1104.8 953V947.5M1113.8 953V911.5M1122.9 953V906.2M1127.4 953V897.5M1136.4 953V849M1140.9 953V842M1145.4 953V853.2M1150 953V906.2M1154.5 953V813.2M1159 953V862M1163.5 953V887.2M1168 953V856.2M1177 953V862M1181.6 953V810.2M1186.1 953V863.2M1190.6 953V862M1199.6 953V799M1208.6 953V834.5M1213.1 953V935.8M1217.7 953V754.5M1222.2 953V886.2M1226.7 953V842M1231.2 953V770.2M1235.7 953V820.2M1240.2 953V816.2M1244.7 953V719.2M1249.3 953V719.2M1253.8 953V873.2M1289.9 953V827.8M1303.4 953V820.2M1307.9 953V806.2M1312.4 953V766.2M1317 953V876.2M1326 953V770.2M1330.5 953V807.5M1335 953V759M1339.5 953V750.2M1344 953V753.2M1348.5 953V625M1353.1 953V804.5M1357.6 953V846.2M1362.1 953V824.5M1366.6 953V744.5M1371.1 953V676.2M1375.6 953V822M1380.1 953V847.5M1384.7 953V814.5M1389.2 953V803.2M1393.7 953V832M1398.2 953V869M1402.7 953V817.5M1407.2 953V612.5M1411.7 953V812M1420.8 953V833.2M1425.3 953V844.5M1429.8 953V792M1434.3 953V757M1438.8 953V542.5M1443.3 953V816.2M1447.8 953V803.2M1452.4 953V827.5M1456.9 953V816.2M1461.4 953V827.5M1470.4 953V792M1474.9 953V800.2M1479.4 953V756.2M1483.9 953V715M1488.5 953V816.2M1493 953V854.5M1497.5 953V612.5M1502 953V665M1506.5 953V673.2M1511 953V740.2M1515.5 953V826.2M1520.1 953V817.5M1524.6 953V763.2M1529.1 953V629.2M1533.6 953V750.2M1538.1 953V793.2M1542.6 953V807.5M1547.1 953V746.2M1551.6 953V792M1556.2 953V800.2M1560.7 953V757.5M1565.2 953V730M1569.7 953V807.5M1574.2 953V732M1578.7 953V740.2M1583.2 953V797.8M1587.8 953V804.5M1592.3 953V665M1596.8 953V720.5M1601.3 953V800.2M1605.8 953V750.2M1610.3 953V750.2M1614.8 953V786.2M1619.4 953V807.5M1623.9 953V780.2M1628.4 953V703.2M1632.9 953V876.2M1637.4 953V742M1641.9 953V680.5M1646.4 953V784.5M1650.9 953V807.5M1655.5 953V773.2M1660 953V687.5M1664.5 953V876.2" stroke="#12566a" stroke-width="2"/>
<circle cx="25.8" cy="575" r="2.6" fill="#444444"/>
<circle cx="238.2" cy="635.8" r="2.6" fill="#444444"/>
<circle cx="247" cy="624.2" r="2.6" fill="#444444"/>
<circle cx="265" cy="603" r="2.6" fill="#444444"/>
<circle cx="269.5" cy="600.8" r="2.6" fill="#444444"/>
<circle cx="278.8" cy="571" r="2.6" fill="#444444"/>
<circle cx="332.8" cy="561.2" r="2.6" fill="#444444"/>
<circle cx="346.2" cy="600.8" r="2.6" fill="#444444"/>
<circle cx="1348" cy="935.2" r="2.6" fill="#444444"/>
<circle cx="1357" cy="764" r="2.6" fill="#444444"/>
<circle cx="1361.5" cy="880.2" r="2.6" fill="#444444"/>
<circle cx="1370.5" cy="830.2" r="2.6" fill="#444444"/>
<circle cx="1379.5" cy="744" r="2.6" fill="#444444"/>
<circle cx="1406.5" cy="772.8" r="2.6" fill="#444444"/>
<circle cx="1411" cy="734.5" r="2.6" fill="#444444"/>
<circle cx="1438.2" cy="735.2" r="2.6" fill="#444444"/>
<circle cx="1388.8" cy="716.2" r="2.6" fill="#444444"/>
<circle cx="1402.5" cy="687" r="2.6" fill="#444444"/>
<circle cx="1420" cy="630" r="2.6" fill="#444444"/>
<circle cx="1429.2" cy="712.5" r="2.6" fill="#444444"/>
<circle cx="1447.2" cy="705.5" r="2.6" fill="#444444"/>
<circle cx="1451.8" cy="586.8" r="2.6" fill="#444444"/>
<circle cx="1456.2" cy="680.8" r="2.6" fill="#444444"/>
<circle cx="1460.8" cy="635" r="2.6" fill="#444444"/>
<circle cx="1469.8" cy="617.5" r="2.6" fill="#444444"/>
<circle cx="1474.2" cy="602" r="2.6" fill="#444444"/>
<circle cx="1478.8" cy="614.5" r="2.6" fill="#444444"/>
<circle cx="1483.2" cy="657.5" r="2.6" fill="#444444"/>
<circle cx="1487.8" cy="558.2" r="2.6" fill="#444444"/>
<circle cx="1496.8" cy="718.2" r="2.6" fill="#444444"/>
<circle cx="1501.2" cy="588.8" r="2.6" fill="#444444"/>
<circle cx="1519.5" cy="549.2" r="2.6" fill="#444444"/>
<circle cx="1528.5" cy="593" r="2.6" fill="#444444"/>
<circle cx="1537.5" cy="503.8" r="2.6" fill="#444444"/>
<circle cx="1573.5" cy="538.2" r="2.6" fill="#444444"/>
<circle cx="39.2" cy="146.8" r="2.6" fill="#444444"/>
<circle cx="44" cy="153.2" r="2.6" fill="#444444"/>
<circle cx="125.2" cy="152.8" r="2.6" fill="#444444"/>
<circle cx="129.8" cy="190.2" r="2.6" fill="#444444"/>
<circle cx="156.8" cy="106.2" r="2.6" fill="#444444"/>
<circle cx="161.2" cy="104.5" r="2.6" fill="#444444"/>
<circle cx="35" cy="290.5" r="2.6" fill="#444444"/>
<circle cx="48.5" cy="290" r="2.6" fill="#444444"/>
<circle cx="53" cy="272.5" r="2.6" fill="#444444"/>
<circle cx="57.5" cy="264.2" r="2.6" fill="#444444"/>
<circle cx="75.5" cy="257.8" r="2.6" fill="#444444"/>
<circle cx="84.5" cy="268" r="2.6" fill="#444444"/>
<circle cx="89.2" cy="326.5" r="2.6" fill="#444444"/>
<circle cx="138.8" cy="294.2" r="2.6" fill="#444444"/>
<circle cx="134.2" cy="333.2" r="2.6" fill="#444444"/>
<circle cx="147.8" cy="328.5" r="2.6" fill="#444444"/>
<circle cx="165.8" cy="280" r="2.6" fill="#444444"/>
<circle cx="170.2" cy="297.8" r="2.6" fill="#444444"/>
<circle cx="197.2" cy="303" r="2.6" fill="#444444"/>
<circle cx="206.2" cy="269" r="2.6" fill="#444444"/>
<circle cx="220" cy="255.5" r="2.6" fill="#444444"/>
<circle cx="305.8" cy="290.5" r="2.6" fill="#444444"/>
<circle cx="310.2" cy="283.8" r="2.6" fill="#444444"/>
<circle cx="341.8" cy="291.5" r="2.6" fill="#444444"/>
<circle cx="368.8" cy="223.8" r="2.6" fill="#444444"/>
<circle cx="360" cy="327.5" r="2.6" fill="#444444"/>
<circle cx="427.5" cy="258.2" r="2.6" fill="#444444"/>
<circle cx="432" cy="306" r="2.6" fill="#444444"/>
<circle cx="445.8" cy="311.5" r="2.6" fill="#444444"/>
<circle cx="450.2" cy="300" r="2.6" fill="#444444"/>
<circle cx="454.8" cy="255.5" r="2.6" fill="#444444"/>
<circle cx="463.8" cy="283.2" r="2.6" fill="#444444"/>
<circle cx="472.8" cy="292.5" r="2.6" fill="#444444"/>
<circle cx="107.5" cy="346.8" r="2.6" fill="#444444"/>
<circle cx="80" cy="363.8" r="2.6" fill="#444444"/>
<circle cx="152.2" cy="356.5" r="2.6" fill="#444444"/>
<circle cx="202" cy="360.8" r="2.6" fill="#444444"/>
<circle cx="71.2" cy="400" r="2.6" fill="#444444"/>
<circle cx="62" cy="413" r="2.6" fill="#444444"/>
<circle cx="66.5" cy="418.2" r="2.6" fill="#444444"/>
<circle cx="93.8" cy="417.8" r="2.6" fill="#444444"/>
<circle cx="111.8" cy="427" r="2.6" fill="#444444"/>
<circle cx="102.8" cy="460" r="2.6" fill="#444444"/>
<circle cx="98.2" cy="494.5" r="2.6" fill="#444444"/>
<circle cx="211" cy="386.2" r="2.6" fill="#444444"/>
<circle cx="233.5" cy="381.5" r="2.6" fill="#444444"/>
<circle cx="215.5" cy="454.8" r="2.6" fill="#444444"/>
<circle cx="229.2" cy="486.8" r="2.6" fill="#444444"/>
<circle cx="251.8" cy="493.2" r="2.6" fill="#444444"/>
<circle cx="256.2" cy="493" r="2.6" fill="#444444"/>
<circle cx="260.8" cy="466.8" r="2.6" fill="#444444"/>
<circle cx="274.2" cy="481.5" r="2.6" fill="#444444"/>
<circle cx="283.2" cy="495" r="2.6" fill="#444444"/>
<circle cx="292.2" cy="473" r="2.6" fill="#444444"/>
<circle cx="296.8" cy="377.8" r="2.6" fill="#444444"/>
<circle cx="301.2" cy="386.8" r="2.6" fill="#444444"/>
<circle cx="314.8" cy="384.2" r="2.6" fill="#444444"/>
<circle cx="319.2" cy="375" r="2.6" fill="#444444"/>
<circle cx="323.8" cy="384.8" r="2.6" fill="#444444"/>
<circle cx="350.8" cy="498" r="2.6" fill="#444444"/>
<circle cx="355.2" cy="453.8" r="2.6" fill="#444444"/>
<circle cx="364.2" cy="421.2" r="2.6" fill="#444444"/>
<circle cx="382.5" cy="364.8" r="2.6" fill="#444444"/>
<circle cx="387" cy="393" r="2.6" fill="#444444"/>
<circle cx="391.8" cy="438.2" r="2.6" fill="#444444"/>
<circle cx="396.2" cy="471.2" r="2.6" fill="#444444"/>
<circle cx="400.8" cy="447" r="2.6" fill="#444444"/>
<circle cx="409.8" cy="438.5" r="2.6" fill="#444444"/>
<circle cx="414.2" cy="479" r="2.6" fill="#444444"/>
<circle cx="418.8" cy="420.8" r="2.6" fill="#444444"/>
<circle cx="423.2" cy="413.5" r="2.6" fill="#444444"/>
<circle cx="441.2" cy="350.2" r="2.6" fill="#444444"/>
<circle cx="459.2" cy="458" r="2.6" fill="#444444"/>
<circle cx="477.2" cy="442.2" r="2.6" fill="#444444"/>
<circle cx="481.5" cy="281.2" r="2.6" fill="#444444"/>
<circle cx="486" cy="380.8" r="2.6" fill="#444444"/>
<circle cx="490.5" cy="379.5" r="2.6" fill="#444444"/>
<circle cx="495" cy="327" r="2.6" fill="#444444"/>
<circle cx="499.5" cy="371.5" r="2.6" fill="#444444"/>
<circle cx="504" cy="313.8" r="2.6" fill="#444444"/>
<circle cx="508.5" cy="284" r="2.6" fill="#444444"/>
<circle cx="513" cy="403.8" r="2.6" fill="#444444"/>
<circle cx="522" cy="344.5" r="2.6" fill="#444444"/>
<circle cx="535.5" cy="345.2" r="2.6" fill="#444444"/>
<circle cx="540" cy="297" r="2.6" fill="#444444"/>
<circle cx="544.5" cy="386.2" r="2.6" fill="#444444"/>
<circle cx="549" cy="345.2" r="2.6" fill="#444444"/>
<circle cx="553.8" cy="475.8" r="2.6" fill="#444444"/>
<circle cx="558.2" cy="315" r="2.6" fill="#444444"/>
<circle cx="562.8" cy="378.2" r="2.6" fill="#444444"/>
<circle cx="567.2" cy="398.2" r="2.6" fill="#444444"/>
<circle cx="571.8" cy="350.8" r="2.6" fill="#444444"/>
<circle cx="576.2" cy="417" r="2.6" fill="#444444"/>
<circle cx="612.2" cy="321.5" r="2.6" fill="#444444"/>
<circle cx="617" cy="274" r="2.6" fill="#444444"/>
<circle cx="626" cy="450.8" r="2.6" fill="#444444"/>
<circle cx="630.5" cy="292.5" r="2.6" fill="#444444"/>
<circle cx="639.5" cy="461.2" r="2.6" fill="#444444"/>
<circle cx="648.5" cy="312" r="2.6" fill="#444444"/>
<circle cx="657.5" cy="293.8" r="2.6" fill="#444444"/>
<circle cx="671" cy="318.8" r="2.6" fill="#444444"/>
<circle cx="702.5" cy="335.8" r="2.6" fill="#444444"/>
<circle cx="725.2" cy="426.2" r="2.6" fill="#444444"/>
<circle cx="734.2" cy="383.2" r="2.6" fill="#444444"/>
<circle cx="738.8" cy="420.5" r="2.6" fill="#444444"/>
<circle cx="747.8" cy="322.8" r="2.6" fill="#444444"/>
<circle cx="756.8" cy="329.5" r="2.6" fill="#444444"/>
<circle cx="761.2" cy="362" r="2.6" fill="#444444"/>
<circle cx="770.2" cy="310.8" r="2.6" fill="#444444"/>
<circle cx="774.8" cy="337.8" r="2.6" fill="#444444"/>
<circle cx="783.8" cy="426.5" r="2.6" fill="#444444"/>
<circle cx="788.2" cy="281.2" r="2.6" fill="#444444"/>
<circle cx="801.8" cy="345.8" r="2.6" fill="#444444"/>
<circle cx="806.2" cy="286.5" r="2.6" fill="#444444"/>
<circle cx="811" cy="395.8" r="2.6" fill="#444444"/>
<circle cx="820" cy="292" r="2.6" fill="#444444"/>
<circle cx="824.5" cy="328.8" r="2.6" fill="#444444"/>
<circle cx="829" cy="482.5" r="2.6" fill="#444444"/>
<circle cx="833.5" cy="436.5" r="2.6" fill="#444444"/>
<circle cx="838" cy="319" r="2.6" fill="#444444"/>
<circle cx="842.5" cy="453.8" r="2.6" fill="#444444"/>
<circle cx="847" cy="279.5" r="2.6" fill="#444444"/>
<circle cx="851.5" cy="405.2" r="2.6" fill="#444444"/>
<circle cx="860.5" cy="301.5" r="2.6" fill="#444444"/>
<circle cx="865" cy="434" r="2.6" fill="#444444"/>
<circle cx="869.5" cy="381.2" r="2.6" fill="#444444"/>
<circle cx="874" cy="307.5" r="2.6" fill="#444444"/>
<circle cx="878.5" cy="296.2" r="2.6" fill="#444444"/>
<circle cx="883" cy="337.8" r="2.6" fill="#444444"/>
<circle cx="896.5" cy="393.8" r="2.6" fill="#444444"/>
<circle cx="901.2" cy="275" r="2.6" fill="#444444"/>
<circle cx="914.8" cy="299" r="2.6" fill="#444444"/>
<circle cx="923.8" cy="317" r="2.6" fill="#444444"/>
<circle cx="946.2" cy="389.5" r="2.6" fill="#444444"/>
<circle cx="517.5" cy="48.8" r="2.6" fill="#444444"/>
<circle cx="527" cy="171.2" r="2.6" fill="#444444"/>
<circle cx="580.8" cy="186.8" r="2.6" fill="#444444"/>
<circle cx="585.2" cy="241.2" r="2.6" fill="#444444"/>
<circle cx="589.8" cy="186.2" r="2.6" fill="#444444"/>
<circle cx="594.2" cy="165.8" r="2.6" fill="#444444"/>
<circle cx="603.2" cy="165.8" r="2.6" fill="#444444"/>
<circle cx="607.8" cy="225.5" r="2.6" fill="#444444"/>
<circle cx="621.5" cy="231.8" r="2.6" fill="#444444"/>
<circle cx="644" cy="228" r="2.6" fill="#444444"/>
<circle cx="653" cy="255" r="2.6" fill="#444444"/>
<circle cx="662" cy="185.8" r="2.6" fill="#444444"/>
<circle cx="666.5" cy="199" r="2.6" fill="#444444"/>
<circle cx="675.5" cy="207.2" r="2.6" fill="#444444"/>
<circle cx="680" cy="95.2" r="2.6" fill="#444444"/>
<circle cx="684.5" cy="222.8" r="2.6" fill="#444444"/>
<circle cx="689" cy="124.2" r="2.6" fill="#444444"/>
<circle cx="693.5" cy="179" r="2.6" fill="#444444"/>
<circle cx="698" cy="230.8" r="2.6" fill="#444444"/>
<circle cx="707" cy="241.2" r="2.6" fill="#444444"/>
<circle cx="711.5" cy="209.2" r="2.6" fill="#444444"/>
<circle cx="729.8" cy="225.8" r="2.6" fill="#444444"/>
<circle cx="752.2" cy="196.8" r="2.6" fill="#444444"/>
<circle cx="765.8" cy="206.8" r="2.6" fill="#444444"/>
<circle cx="779.2" cy="230.8" r="2.6" fill="#444444"/>
<circle cx="792.8" cy="205.8" r="2.6" fill="#444444"/>
<circle cx="797.2" cy="249.5" r="2.6" fill="#444444"/>
<circle cx="815.5" cy="226.2" r="2.6" fill="#444444"/>
<circle cx="856" cy="195.8" r="2.6" fill="#444444"/>
<circle cx="887.5" cy="244.5" r="2.6" fill="#444444"/>
<circle cx="892" cy="217" r="2.6" fill="#444444"/>
<circle cx="905.8" cy="95.2" r="2.6" fill="#444444"/>
<circle cx="919.2" cy="186.2" r="2.6" fill="#444444"/>
<circle cx="928.2" cy="228.8" r="2.6" fill="#444444"/>
<circle cx="932.8" cy="183" r="2.6" fill="#444444"/>
<circle cx="937.2" cy="249.2" r="2.6" fill="#444444"/>
<circle cx="951.5" cy="235.5" r="2.6" fill="#444444"/>
<circle cx="1032.5" cy="231.2" r="2.6" fill="#444444"/>
<circle cx="1028" cy="260" r="2.6" fill="#444444"/>
<circle cx="964.5" cy="296.5" r="2.6" fill="#444444"/>
<circle cx="969.5" cy="323.2" r="2.6" fill="#444444"/>
<circle cx="978.5" cy="348.2" r="2.6" fill="#444444"/>
<circle cx="992" cy="298.8" r="2.6" fill="#444444"/>
<circle cx="987.5" cy="394" r="2.6" fill="#444444"/>
<circle cx="996.5" cy="418" r="2.6" fill="#444444"/>
<circle cx="1001" cy="374.5" r="2.6" fill="#444444"/>
<circle cx="1010" cy="309" r="2.6" fill="#444444"/>
<circle cx="1014.5" cy="375.2" r="2.6" fill="#444444"/>
<circle cx="1019" cy="384.5" r="2.6" fill="#444444"/>
<circle cx="1037" cy="380.8" r="2.6" fill="#444444"/>
<circle cx="1041.5" cy="411.5" r="2.6" fill="#444444"/>
<circle cx="1050.8" cy="419.8" r="2.6" fill="#444444"/>
<circle cx="1055.2" cy="458.2" r="2.6" fill="#444444"/>
<circle cx="1082.2" cy="459.5" r="2.6" fill="#444444"/>
<circle cx="1087" cy="384.2" r="2.6" fill="#444444"/>
<circle cx="956" cy="513.2" r="2.6" fill="#444444"/>
<circle cx="1556.2" cy="272.8" r="2.6" fill="#444444"/>
<circle cx="1628.2" cy="279" r="2.6" fill="#444444"/>
<circle cx="1569.5" cy="312.8" r="2.6" fill="#444444"/>
<circle cx="1583" cy="312.2" r="2.6" fill="#444444"/>
<circle cx="1551.5" cy="343.2" r="2.6" fill="#444444"/>
<circle cx="1614.8" cy="339.5" r="2.6" fill="#444444"/>
<circle cx="1619.2" cy="342.2" r="2.6" fill="#444444"/>
<circle cx="1641.8" cy="344" r="2.6" fill="#444444"/>
<circle cx="1605.8" cy="371.5" r="2.6" fill="#444444"/>
<circle cx="1533.5" cy="383.2" r="2.6" fill="#444444"/>
<circle cx="1542.5" cy="386.5" r="2.6" fill="#444444"/>
<circle cx="1565" cy="403.2" r="2.6" fill="#444444"/>
<circle cx="1547" cy="412.8" r="2.6" fill="#444444"/>
<circle cx="1578.5" cy="410.5" r="2.6" fill="#444444"/>
<circle cx="1506.2" cy="430.2" r="2.6" fill="#444444"/>
<circle cx="1587.5" cy="431" r="2.6" fill="#444444"/>
<circle cx="1560.5" cy="444.5" r="2.6" fill="#444444"/>
<circle cx="1596.5" cy="447.2" r="2.6" fill="#444444"/>
<circle cx="1492.8" cy="462" r="2.6" fill="#444444"/>
<circle cx="1515.2" cy="468.2" r="2.6" fill="#444444"/>
<circle cx="1610.2" cy="464.5" r="2.6" fill="#444444"/>
<circle cx="1510.8" cy="497.5" r="2.6" fill="#444444"/>
<circle cx="1524.2" cy="493.8" r="2.6" fill="#444444"/>
<circle cx="1592" cy="498.2" r="2.6" fill="#444444"/>
<circle cx="1650.8" cy="67.5" r="2.6" fill="#444444"/>
<circle cx="1664.2" cy="71.8" r="2.6" fill="#444444"/>
<circle cx="1637.2" cy="154.8" r="2.6" fill="#444444"/>
<circle cx="1655.2" cy="149.8" r="2.6" fill="#444444"/>
<circle cx="1659.8" cy="154.8" r="2.6" fill="#444444"/>
<circle cx="1632.8" cy="175.2" r="2.6" fill="#444444"/>
<circle cx="1623.8" cy="193.5" r="2.6" fill="#444444"/>
<circle cx="1646.2" cy="219" r="2.6" fill="#444444"/>
<circle cx="1601.2" cy="258.8" r="2.6" fill="#444444"/>
<use href="#lo" transform="translate(0.35,1.97)" stroke="rgba(0,0,0,0.1)" stroke-width="3"/>
<use href="#lo" transform="translate(0.22,1.23)" stroke="rgba(0,0,0,0.1)" stroke-width="1.5"/>
<use href="#lo" stroke="#d99a5b" stroke-width="1.1"/>
<rect x="1667.9" y="0" width="141.1" height="953" fill="rgba(255,255,255,0.31)"/>
<use href="#lf" transform="translate(0.3,1.5)" stroke="rgba(0,0,0,0.07)" stroke-width="2.5"/>
<use href="#lf" stroke="#444" stroke-width="0.9"/>
</g>
<path d="M26 860.5H1809M26 768.5H1809M26 676.5H1809M26 584.5H1809M26 492.1H1809M26 399.5H1809M26 307.5H1809M26 215.5H1809M26 123.5H1809M159.5 31V953M299.5 31V953M439.5 31V953M574.5 31V953M714.5 31V953M850.5 31V953M989.9 31V953M1130.5 31V953M1256.5 31V953M1396.5 31V953M1531.5 31V953M1671.5 31V953M1807.5 31V953M1844.5 31V953.5M1875.5 31V953.5M1810 953.5H1815M1845 953.5H1850M1876 953.5H1881M1810 860.5H1815M1845 860.5H1850M1876 860.5H1881M1810 768.5H1815M1845 768.5H1850M1876 768.5H1881M1810 676.5H1815M1845 676.5H1850M1876 676.5H1881M1810 584.5H1815M1845 584.5H1850M1876 584.5H1881M1810 492.1H1815M1845 492.1H1850M1876 492.1H1881M1810 399.5H1815M1845 399.5H1850M1876 399.5H1881M1810 307.5H1815M1845 307.5H1850M1876 307.5H1881M1810 215.5H1815M1845 215.5H1850M1876 215.5H1881M1810 123.5H1815M1845 123.5H1850M1876 123.5H1881M1810 30.5H1815M1845 30.5H1850M1876 30.5H1881" stroke="rgba(84,84,84,0.2)" stroke-width="1" fill="none"/>
<path d="M25.5 31V954M1809.5 31V954M25 953.5H1810" stroke="#727272" stroke-width="1" fill="none"/>
<g font-family="Liberation Sans, sans-serif" font-size="11" fill="#545454">
<text x="20.2" y="956.1" text-anchor="end">0</text>
<text x="1820.3" y="956.1">52.4</text>
<text x="1855.3" y="956.1">0</text>
<text x="1886.2" y="956.1">0 %</text>
<text x="20.2" y="863.9" text-anchor="end">20</text>
<text x="1820.3" y="863.9">54.2</text>
<text x="1855.3" y="863.9">65</text>
<text x="1886.2" y="863.9">20 %</text>
<text x="20.2" y="771.7" text-anchor="end">40</text>
<text x="1820.3" y="771.7">56.0</text>
<text x="1855.3" y="771.7">129</text>
<text x="1886.2" y="771.7">40 %</text>
<text x="20.2" y="679.5" text-anchor="end">60</text>
<text x="1820.3" y="679.5">57.8</text>
<text x="1855.3" y="679.5">194</text>
<text x="1886.2" y="679.5">60 %</text>
<text x="20.2" y="587.3" text-anchor="end">80</text>
<text x="1820.3" y="587.3">59.5</text>
<text x="1855.3" y="587.3">258</text>
<text x="1886.2" y="587.3">80 %</text>
<text x="20.2" y="495.1" text-anchor="end">100</text>
<text x="1820.3" y="495.1">61.3</text>
<text x="1855.3" y="495.1">323</text>
<text x="1886.2" y="495.1">100 %</text>
<text x="20.2" y="402.9" text-anchor="end">120</text>
<text x="1820.3" y="402.9">63.1</text>
<text x="1855.3" y="402.9">388</text>
<text x="1886.2" y="402.9">120 %</text>
<text x="20.2" y="310.7" text-anchor="end">140</text>
<text x="1820.3" y="310.7">64.9</text>
<text x="1855.3" y="310.7">452</text>
<text x="1886.2" y="310.7">140 %</text>
<text x="20.2" y="218.5" text-anchor="end">160</text>
<text x="1820.3" y="218.5">66.7</text>
<text x="1855.3" y="218.5">517</text>
<text x="1886.2" y="218.5">160 %</text>
<text x="20.2" y="126.3" text-anchor="end">180</text>
<text x="1820.3" y="126.3">68.5</text>
<text x="1855.3" y="126.3">581</text>
<text x="1886.2" y="126.3">180 %</text>
<text x="20.2" y="34.1" text-anchor="end">200</text>
<text x="1820.3" y="34.1">70.2</text>
<text x="1855.3" y="34.1">646</text>
<text x="1886.2" y="34.1">200 %</text>
<text x="159" y="965.8" text-anchor="middle">Jul 2021</text>
<text x="299" y="965.8" text-anchor="middle">Aug 2021</text>
<text x="439" y="965.8" text-anchor="middle">Sep 2021</text>
<text x="574" y="965.8" text-anchor="middle">Okt 2021</text>
<text x="714" y="965.8" text-anchor="middle">Nov 2021</text>
<text x="850" y="965.8" text-anchor="middle">Dez 2021</text>
<text x="989.4" y="965.8" text-anchor="middle">Jan 2022</text>
<text x="1130" y="965.8" text-anchor="middle">Feb 2022</text>
<text x="1256" y="965.8" text-anchor="middle">Mrz 2022</text>
<text x="1396" y="965.8" text-anchor="middle">Apr 2022</text>
<text x="1531" y="965.8" text-anchor="middle">Mai 2022</text>
<text x="1671" y="965.8" text-anchor="middle">Jun 2022</text>
<text x="1807" y="965.8" text-anchor="middle">Jul 2022</text>
</g>
</svg>
<div class="lg"></div>
<div class="sw" style="top:7px"><div style="background:rgb(58,135,30)"></div></div><div class="lt" style="top:7.6px">Fitnessgrad (CTL)</div>
<div class="sw" style="top:25px"><div style="background:rgb(152,37,54)"></div></div><div class="lt" style="top:25.6px">Müdigkeit (ATL)</div>
<div class="sw" style="top:43px"><div style="background:#000"></div></div><div class="lt" style="top:43.6px">durchschn. VO2max</div>
<div class="sw" style="top:61px"><div style="background:#12566a"></div></div><div class="lt" style="top:61.6px">TRIMP</div>
<div class="sw" style="top:79px"><div style="background:#444444"></div></div><div class="lt" style="top:79.6px">VO2max</div>
<div class="sw" style="top:97px"><div style="background:#d99a5b"></div></div><div class="lt" style="top:97.6px">Marathonform</div>
</body></html>
